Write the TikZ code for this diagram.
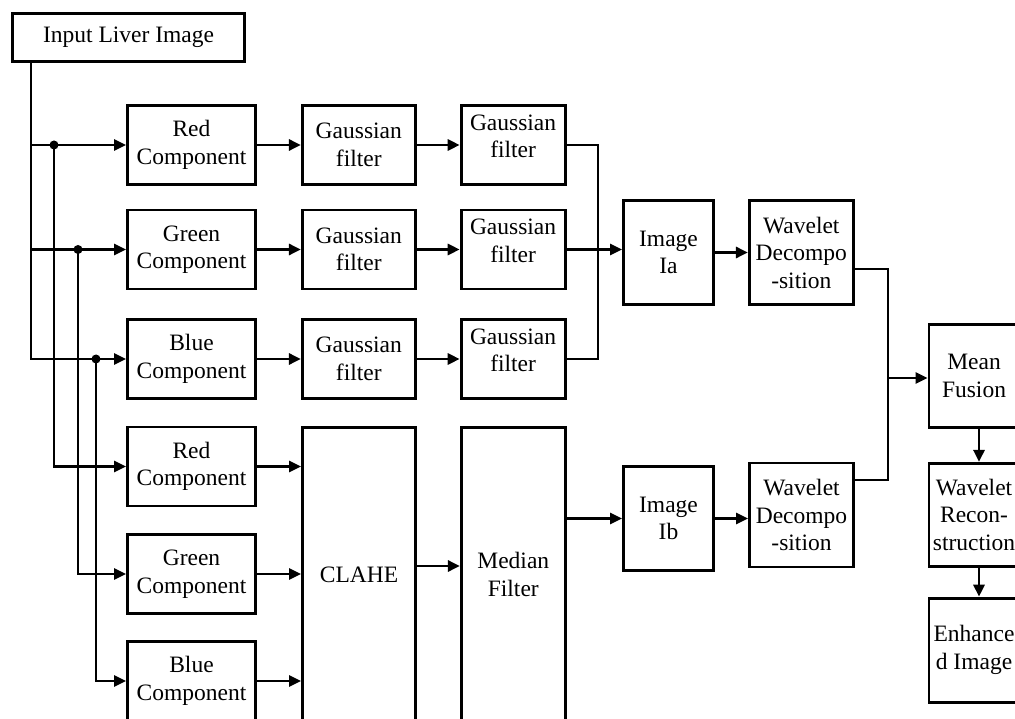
\documentclass[tikz,border=0pt]{standalone}
\usepackage{fontspec}
\setmainfont{Liberation Serif}
\usetikzlibrary{positioning,arrows.meta}

\begin{document}
\begin{tikzpicture}[x=1pt, y=-1pt, line width=2.8pt, font=\fontsize{23.5}{27.5}\selectfont] %Rehaussement
	\tikzstyle{box} = [rectangle, draw, text centered, align=center, inner sep=2pt]
	\tikzstyle{comp} = [box, minimum width=128pt, minimum height=79pt]
	\tikzstyle{gaussa} = [box, minimum width=113pt, minimum height=79pt]
	\tikzstyle{gaussb} = [box, minimum width=104pt, minimum height=79pt, text depth=18pt]
	\tikzstyle{imgbox} = [box, minimum width=90pt, minimum height=104pt]
	\tikzstyle{wavebox} = [box, minimum width=104pt, minimum height=104pt]
	\tikzstyle{sidebox} = [box, minimum width=90pt, inner sep=0pt]
	\tikzstyle{fleche} = [-{Triangle[length=12pt, width=11pt]}]
	\useasboundingbox (0,0) rectangle (1015,719);
	\node[box, minimum width=232pt, minimum height=48pt] (in) at (128.5,37.5) {Input Liver Image};
	\node[comp] (R1) at (191.5,145) {Red\\Component};
	\node[comp] (R2) at (191.5,249.5) {Green\\Component};
	\node[comp] (R3) at (191.5,359) {Blue\\Component};
	\node[comp] (L1) at (191.5,466.5) {Red\\Component};
	\node[comp] (L2) at (191.5,574) {Green\\Component};
	\node[comp] (L3) at (191.5,681) {Blue\\Component};
	\foreach \i in {1,2,3}
	{
		\node[gaussa, right=44pt of R\i] (GA\i) {Gaussian\\filter};
		\node[gaussb, right=43pt of GA\i] (GB\i) {Gaussian\\filter};
	}
	\node[box, minimum width=113pt, minimum height=294pt] (clahe) at (359,574.5) {CLAHE};
	\node[box, minimum width=104pt, minimum height=294pt, right=43pt of clahe] (med) {Median\\Filter};
	\node[imgbox] (ia) at (668.5,252.5) {Image\\Ia};
	\node[wavebox, right=33pt of ia] (wda) {Wavelet\\Decompo\\-sition};
	\node[imgbox] (ib) at (668.5,518.5) {Image\\Ib};
	\node[wavebox] (wdb) at (801.5,515) {Wavelet\\Decompo\\-sition};
	\node[sidebox, minimum height=103pt] (mf) at (974,376) {Mean\\Fusion};
	\node[sidebox, minimum height=103pt, below=33pt of mf] (wr) {Wavelet\\Recon-\\struction};
	\node[sidebox, minimum height=104pt, below=29pt of wr] (en) {Enhance\\d Image};
	% branches
	\coordinate (t0) at (31,63);
	\coordinate (v1) at (54,0);
	\coordinate (v2) at (78,0);
	\coordinate (v3) at (96,0);
	\draw[fleche] (t0) |- (R3.west);
	\foreach \i in {1,2}
	{
		\draw[fleche] (t0 |- R\i.west) -- (R\i.west);
	}
	\foreach \i in {1,2,3}
	{
		\fill (v\i |- R\i.west) circle (4.5pt);
		\draw[fleche] (v\i |- R\i.west) |- (L\i.west);
		\draw[fleche] (R\i) -- (GA\i);
		\draw[fleche] (GA\i) -- (GB\i);
		\draw[fleche] (L\i.east) -- (L\i.east -| clahe.west);
	}
	\coordinate (c1) at (598,0);
	\draw (GB1.east) -| (c1 |- GB3.east) -- (GB3.east);
	\draw[fleche] (GB2.east) -- (GB2.east -| ia.west);
	\draw[fleche] (ia) -- (wda);
	\draw[fleche] ([yshift=8.5pt]clahe.east) -- ([yshift=8.5pt]med.west);
	\draw[fleche] (med.east |- ib.west) -- (ib.west);
	\draw[fleche] (ib.east) -- (ib.east -| wdb.west);
	\coordinate (c2) at (888,378);
	\draw ([yshift=-16.5pt]wda.east) -| (c2) |- ([yshift=35pt]wdb.east);
	\draw[fleche] (c2) -- (c2 -| mf.west);
	\draw[fleche] ([xshift=5pt]mf.south) -- ([xshift=5pt]wr.north);
	\draw[fleche] ([xshift=5pt]wr.south) -- ([xshift=5pt]en.north);
\end{tikzpicture}
\end{document}
